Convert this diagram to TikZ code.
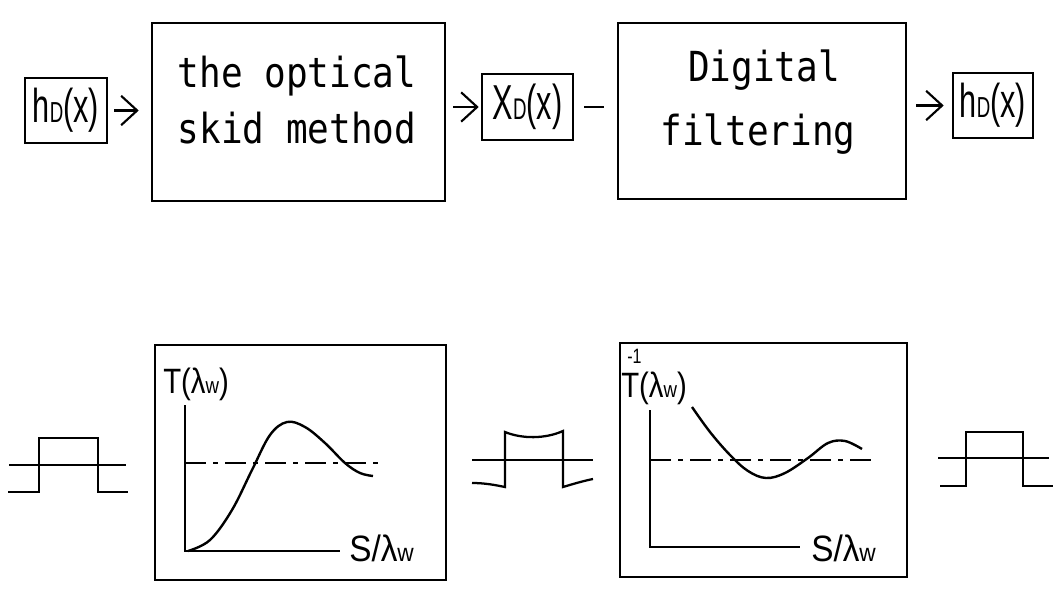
\documentclass[tikz,border=0pt]{standalone}
\usepackage{fontspec}
\setmainfont{Liberation Sans}
\newfontfamily\monof{DejaVu Sans Mono}
\usetikzlibrary{arrows.meta}
\tikzset{
  box/.style={draw, line width=1.9pt, inner sep=0pt},
  arr/.style={line width=1.6pt, -{Straight Barb[length=12pt,width=22pt,line width=1.6pt]}},
  ln/.style={line width=1.7pt},
  curve/.style={line width=1.8pt},
  dd/.style={line width=1.6pt, dash pattern=on 16pt off 5pt on 4pt off 5pt},
  mono/.style={font=\monof\fontsize{27}{27}\selectfont, inner sep=0pt, anchor=base},
  lab/.style={inner sep=0pt, anchor=base west},
}
\newcommand{\tall}[2]{\scalebox{1}[#1]{#2}}
\newcommand{\smD}{{\fontsize{14}{14}\selectfont D}}
\begin{document}
\begin{tikzpicture}[x=0.75pt,y=-0.75pt]
\useasboundingbox (0,0) rectangle (1060,592);
% top row boxes
\node[box, minimum width=61.5pt, minimum height=48.75pt] (h1) at (66,110.5) {};
\node[box, minimum width=219.75pt, minimum height=133.5pt] (b1) at (298.5,112) {};
\node[box, minimum width=68.25pt, minimum height=49.5pt] (xd) at (527.5,107) {};
\node[box, minimum width=216pt, minimum height=132pt] (b2) at (762,111) {};
\node[box, minimum width=60pt, minimum height=48.75pt] (h2) at (993,105.5) {};
% small box labels
\node[inner sep=0pt] (h1t) at (h1) {\fontsize{23}{23}\selectfont\tall{1.55}{h\smD(x)}};
\node[inner sep=0pt] (xdt) at (xd) {\fontsize{23}{23}\selectfont\tall{1.6}{X\smD(x)}};
\node[inner sep=0pt] (h2t) at (h2) {\fontsize{23}{23}\selectfont\tall{1.55}{h\smD(x)}};
% big box texts
\node[mono] (t1) at (297,88) {\tall{1.15}{the optical}};
\node[mono] (t2) at (297,143) {\tall{1.15}{skid method}};
\node[mono] (t3) at (764,82) {\tall{1.15}{Digital}};
\node[mono] (t4) at (758,145) {\tall{1.15}{filtering}};
% connectors
\draw[arr, shorten <=4.5pt, shorten >=9pt] (h1) -- (b1.west |- h1);
\draw[arr, shorten <=5.25pt, shorten >=1.5pt] (b1.east |- xd) -- (xd);
\draw[ln, shorten <=7.5pt, shorten >=9.75pt] (xd) -- (b2.west |- xd);
\draw[arr, shorten <=6.75pt, shorten >=6pt] (b2.east |- h2) -- (h2);
% bottom graph boxes
\node[box, minimum width=218.25pt, minimum height=176.25pt] (g1) at (300.5,462.5) {};
\node[box, minimum width=215.25pt, minimum height=175.5pt] (g2) at (763.5,460) {};
% graph 1
\coordinate (o1) at (185,551);
\draw[ln] (185,405) -- (o1) -- (340,551);
\draw[dd] (185,463) -- (382,463);
\draw[curve] plot[smooth, tension=0.6] coordinates {(188,551) (210,540) (232,510) (252,470) (270,435) (287,422) (305,427) (325,443) (345,463) (360,473) (373,476)};
\node[lab] (l1) at (163,393) {\fontsize{22}{22}\selectfont\tall{1.2}{T(λ{\fontsize{14}{14}\selectfont w})}};
\node[lab] (s1) at (349,561) {\fontsize{25}{25}\selectfont\tall{1.1}{S/λ{\fontsize{17}{17}\selectfont w}}};
% graph 2
\coordinate (o2) at (650,547);
\draw[ln] (650,410) -- (o2) -- (800,547);
\draw[dd] (650,460) -- (872,460);
\draw[curve] plot[smooth, tension=0.6] coordinates {(692,407) (710,432) (730,455) (748,471) (766,478) (785,473) (808,458) (828,443) (845,441) (862,449)};
\node[lab] (l2) at (621,397) {\fontsize{22}{22}\selectfont\tall{1.2}{T(λ{\fontsize{14}{14}\selectfont w})}};
\node[inner sep=0pt, anchor=south west] (m1) at (627,364) {\fontsize{12}{12}\selectfont\tall{1.3}{-1}};
\node[lab] (s2) at (811,561) {\fontsize{25}{25}\selectfont\tall{1.1}{S/λ{\fontsize{17}{17}\selectfont w}}};
% pulses
\draw[ln] (9,465) -- (126,465);
\draw[ln] (8,492) -- (39,492) -- (39,438) -- (98,438) -- (98,492) -- (128,492);
\draw[ln] (472,460) -- (593,460);
\draw[ln] (472,483) .. controls (485,483) and (495,485) .. (505,487) -- (505,432) .. controls (522,439) and (545,439) .. (563,431) -- (563,487) .. controls (573,484) and (583,481) .. (593,479);
\draw[ln] (938,458) -- (1049,458);
\draw[ln] (940,486) -- (966,486) -- (966,432) -- (1023,432) -- (1023,486) -- (1053,486);
\end{tikzpicture}
\end{document}
